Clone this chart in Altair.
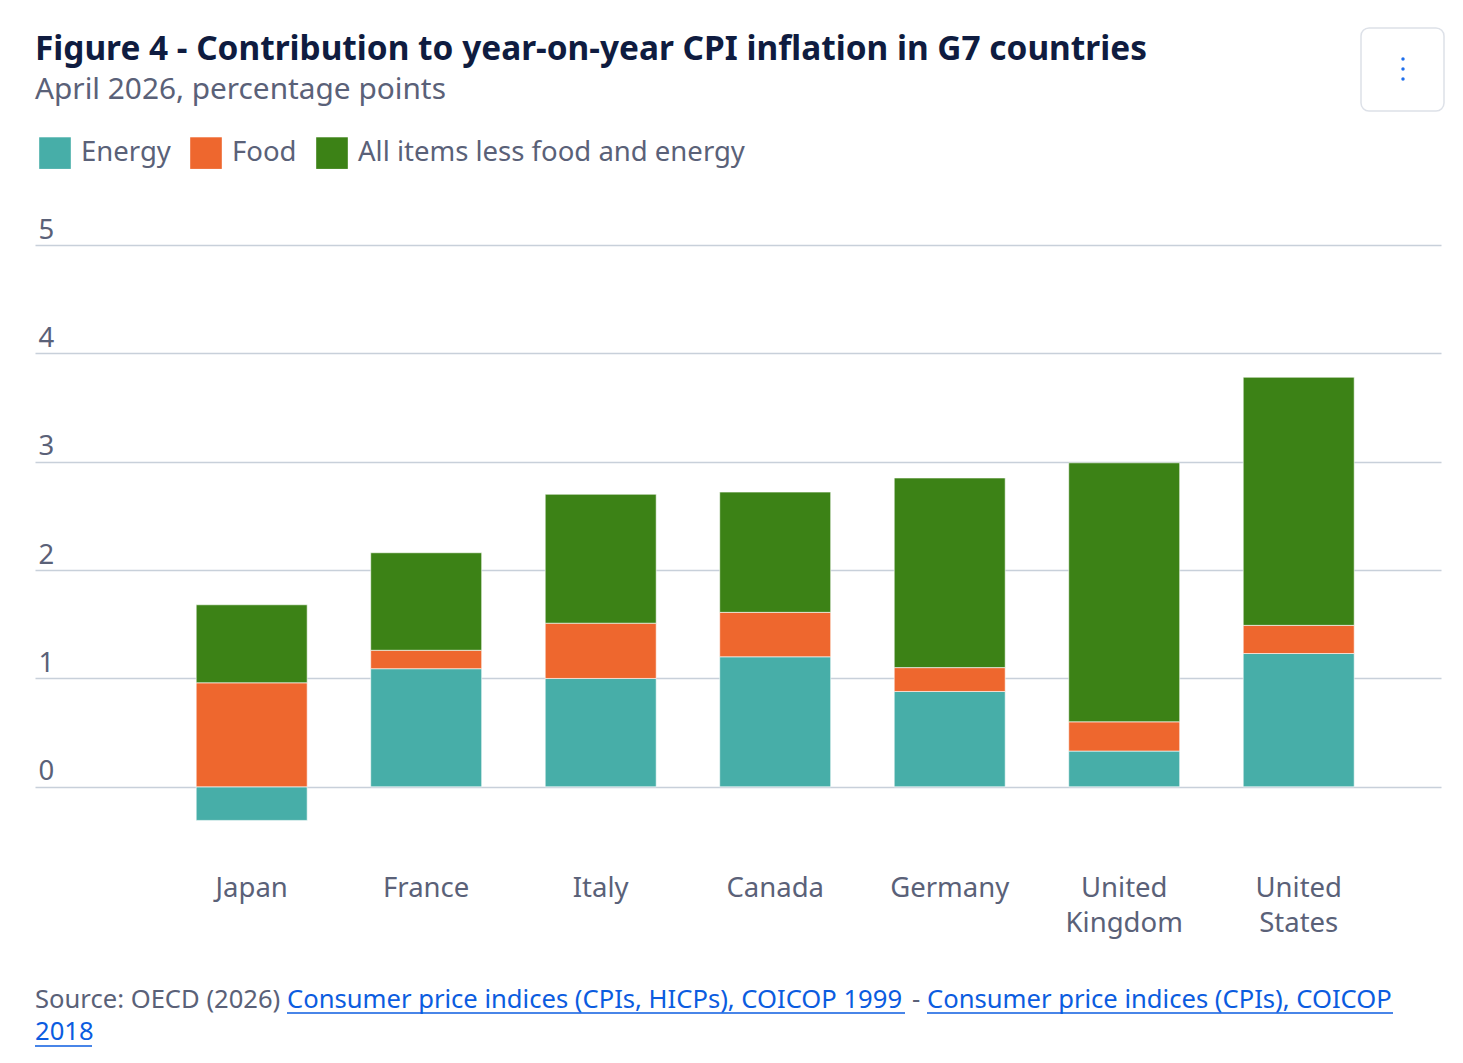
import altair as alt
import pandas as pd

countries = ["Japan", "France", "Italy", "Canada", "Germany", "United Kingdom", "United States"]
energy = [-0.31, 1.09, 1.00, 1.20, 0.88, 0.33, 1.23]
food = [0.96, 0.17, 0.51, 0.41, 0.22, 0.27, 0.26]
core = [0.72, 0.90, 1.19, 1.11, 1.75, 2.39, 2.29]
series = ["Energy", "Food", "All items less food and energy"]
colors = ["#47AEA8", "#EE672E", "#3C8216"]
y_ticks = [0, 1, 2, 3, 4, 5]

rows = []
for i, c in enumerate(countries):
    for k, (name, vals) in enumerate(zip(series, [energy, food, core])):
        rows.append({"country": c, "component": name, "value": vals[i], "order": k})
df = pd.DataFrame(rows)

FONT = "Noto Sans"
GRAY = "#5A6178"
BLUE = "#0B5CE0"
NAVY = "#0F1C40"

W, H = 1406, 596

bars = alt.Chart(df).mark_bar(stroke="white", strokeWidth=1, strokeOpacity=0.6).encode(
    x=alt.X("country:N", sort=countries, title=None,
            scale=alt.Scale(paddingInner=0.364, paddingOuter=0.7106, align=0.65),
            axis=alt.Axis(ticks=False, tickSize=0, domain=False, labelAngle=0,
                          labelFontSize=27.5, labelFont=FONT, labelColor=GRAY,
                          labelPadding=33, labelLineHeight=35,
                          labelExpr="split(datum.label, ' ')")),
    y=alt.Y("value:Q", title=None, stack="zero",
            scale=alt.Scale(domain=[-0.5, 5], nice=False, zero=False),
            axis=alt.Axis(values=y_ticks, ticks=False, tickSize=0, domain=False,
                          gridColor="#C8D0DA", gridWidth=1.5,
                          labelAlign="left", labelPadding=-3, labelBaseline="alphabetic",
                          labelOffset=-7, labelFontSize=27.5, labelFont=FONT,
                          labelColor=GRAY)),
    color=alt.Color("component:N",
                    scale=alt.Scale(domain=series, range=colors),
                    legend=alt.Legend(title=None, orient="none", direction="horizontal",
                                      legendX=4, legendY=-108,
                                      symbolType="square", symbolSize=1000,
                                      symbolStrokeWidth=0, labelFontSize=27.5,
                                      labelFont=FONT, labelColor=GRAY, labelLimit=0,
                                      labelOffset=10, columnPadding=19)),
    order=alt.Order("order:Q"),
)

one = alt.Data(values=[{}])

def txt(text, x, y, color, size=25.6, weight="normal"):
    return alt.Chart(one).mark_text(
        text=text, align="left", baseline="alphabetic", font=FONT,
        fontSize=size, color=color, fontWeight=weight
    ).encode(x=alt.value(x), y=alt.value(y))

def uline(x1, x2, y):
    return alt.Chart(one).mark_rule(color=BLUE, strokeWidth=1.5).encode(
        x=alt.value(x1), x2=alt.value(x2), y=alt.value(y))

titles = [
    txt("Figure 4 - Contribution to year-on-year CPI inflation in G7 countries",
        0, -185.5, NAVY, size=33.4, weight="bold"),
    txt("April 2026, percentage points", 0, -146, GRAY, size=29.8),
]

source = [
    txt("Source: OECD (2026)", 0, 763, GRAY),
    txt("Consumer price indices (CPIs, HICPs), COICOP 1999", 252, 763, BLUE),
    txt("-", 877, 763, GRAY),
    txt("Consumer price indices (CPIs), COICOP", 892, 763, BLUE),
    txt("2018", 0, 795, BLUE),
    uline(252, 870, 768),
    uline(892, 1358, 768),
    uline(0, 57, 801),
]

button = alt.Chart(one).mark_rect(fill="white", stroke="#DDE1E8", strokeWidth=1.5,
                                   cornerRadius=8).encode(
    x=alt.value(1326), x2=alt.value(1409), y=alt.value(-217), y2=alt.value(-134))
dots = [alt.Chart(one).mark_circle(color="#1F6FEB", size=12, opacity=1).encode(
    x=alt.value(1368), y=alt.value(yy)) for yy in (-186, -176, -166)]

chart = alt.layer(bars, *titles, *source, button, *dots).properties(
    width=W, height=H,
    background="white",
    autosize=alt.AutoSizeParams(type="none"),
    padding={"left": 27, "top": 237, "right": 14, "bottom": 214},
).configure_view(stroke=None, strokeWidth=0)

chart.save("out.html", embed_options={"renderer": "svg", "actions": False})
